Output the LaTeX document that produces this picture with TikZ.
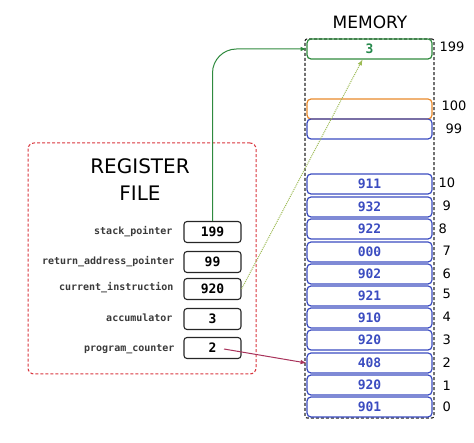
\documentclass[tikz,border=0pt]{standalone}
\usepackage{fontspec}
\setmainfont{DejaVu Sans}
\setmonofont{DejaVu Sans Mono}
\usepackage{tikz}
\usetikzlibrary{positioning}
\usetikzlibrary{calc}
\usetikzlibrary{arrows}

\definecolor{cellblue}{HTML}{3B4CC0}
\definecolor{cellorange}{HTML}{E8892A}
\definecolor{cellgreen}{HTML}{2F8A3E}
\definecolor{boxred}{HTML}{D9363E}
\definecolor{ptrred}{HTML}{A8325A}
\definecolor{ptrolive}{HTML}{9DBB55}
\definecolor{labelgray}{HTML}{3A3A3A}

\tikzset{
  regbox/.style={draw=black!85, line width=1.1pt, rounded corners=3pt, minimum width=57pt, minimum height=21pt, font=\ttfamily\fontsize{13}{13}\selectfont\bfseries},
  reglabel/.style={anchor=east, text=labelgray, font=\ttfamily\fontsize{10}{10}\selectfont\bfseries},
  cell/.style={draw=cellblue, line width=1.2pt, rounded corners=4pt, minimum width=125pt, minimum height=20pt, text=cellblue, font=\ttfamily\fontsize{13}{13}\selectfont\bfseries},
  addr/.style={anchor=west, font=\fontsize{13}{13}\selectfont},
  title/.style={font=\fontsize{20}{20}\selectfont}
}

\begin{document}
\begin{tikzpicture}[x=1pt,y=-1pt]
\useasboundingbox (0,0) rectangle (474,443);

% register file
\node[draw=boxred, densely dashed, line width=1pt, rounded corners=6pt, minimum width=228pt, minimum height=231pt](regfile) at (142,258.5){};
\node[title](regtitle) at (140,166){REGISTER};
\node[title](regtitle2) at (140,193){FILE};

\node[regbox](sp) at (212.5,232){199};
\node[regbox](rap) at (212.5,262){99};
\node[regbox](ci) at (212.5,289){920};
\node[regbox](acc) at (212.5,319){3};
\node[regbox](pc) at (212.5,348){2};
\node[reglabel](spL) at (176,232){stack\_pointer};
\node[reglabel](rapL) at (178,262){return\_address\_pointer};
\node[reglabel](ciL) at (177,288){current\_instruction};
\node[reglabel](accL) at (176,318){accumulator};
\node[reglabel](pcL) at (178,349){program\_counter};
\coordinate (pcptr) at (224,349);

% memory
\node[title, font=\fontsize{17}{17}\selectfont](memtitle) at (370,22){MEMORY};
\node[draw=black!85, densely dashed, line width=1.1pt, rounded corners=2pt, minimum width=129pt, minimum height=379pt](mem) at (369.5,228.5){};

\node[cell, draw=cellgreen, text=cellgreen!80!teal](m199) at (369.5,49){3};
\node[cell, draw=cellorange](m100) at (369.5,109){};
\node[cell](m99) at (369.5,129){};
\node[cell](m10) at (369.5,184){911};
\node[cell](m9) at (369.5,207){932};
\node[cell](m8) at (369.5,229){922};
\node[cell](m7) at (369.5,252){000};
\node[cell](m6) at (369.5,274){902};
\node[cell](m5) at (369.5,296){921};
\node[cell](m4) at (369.5,318){910};
\node[cell](m3) at (369.5,340){920};
\node[cell](m2) at (369.5,363){408};
\node[cell](m1) at (369.5,385){920};
\node[cell](m0) at (369.5,407){901};

\node[addr](a199) at (436,47){199};
\node[addr](a100) at (438,106){100};
\node[addr](a99) at (442,129){99};
\node[addr](a10) at (435,183){10};
\node[addr](a9) at (439,206){9};
\node[addr](a8) at (435,229){8};
\node[addr](a7) at (439,251){7};
\node[addr](a6) at (439,274){6};
\node[addr](a5) at (439,294){5};
\node[addr](a4) at (439,317){4};
\node[addr](a3) at (439,340){3};
\node[addr](a2) at (439,363){2};
\node[addr](a1) at (439,386){1};
\node[addr](a0) at (439,407){0};

% pointers
\draw[-latex, cellgreen, line width=1pt, rounded corners=24pt] (sp.north) |- (m199.west);
\draw[-latex, ptrolive, densely dotted, line width=1pt] (ci.east) -- ([xshift=-7pt]m199.south);
\draw[-latex, ptrred, line width=1pt] (pcptr) -- (m2.west);
\end{tikzpicture}
\end{document}
